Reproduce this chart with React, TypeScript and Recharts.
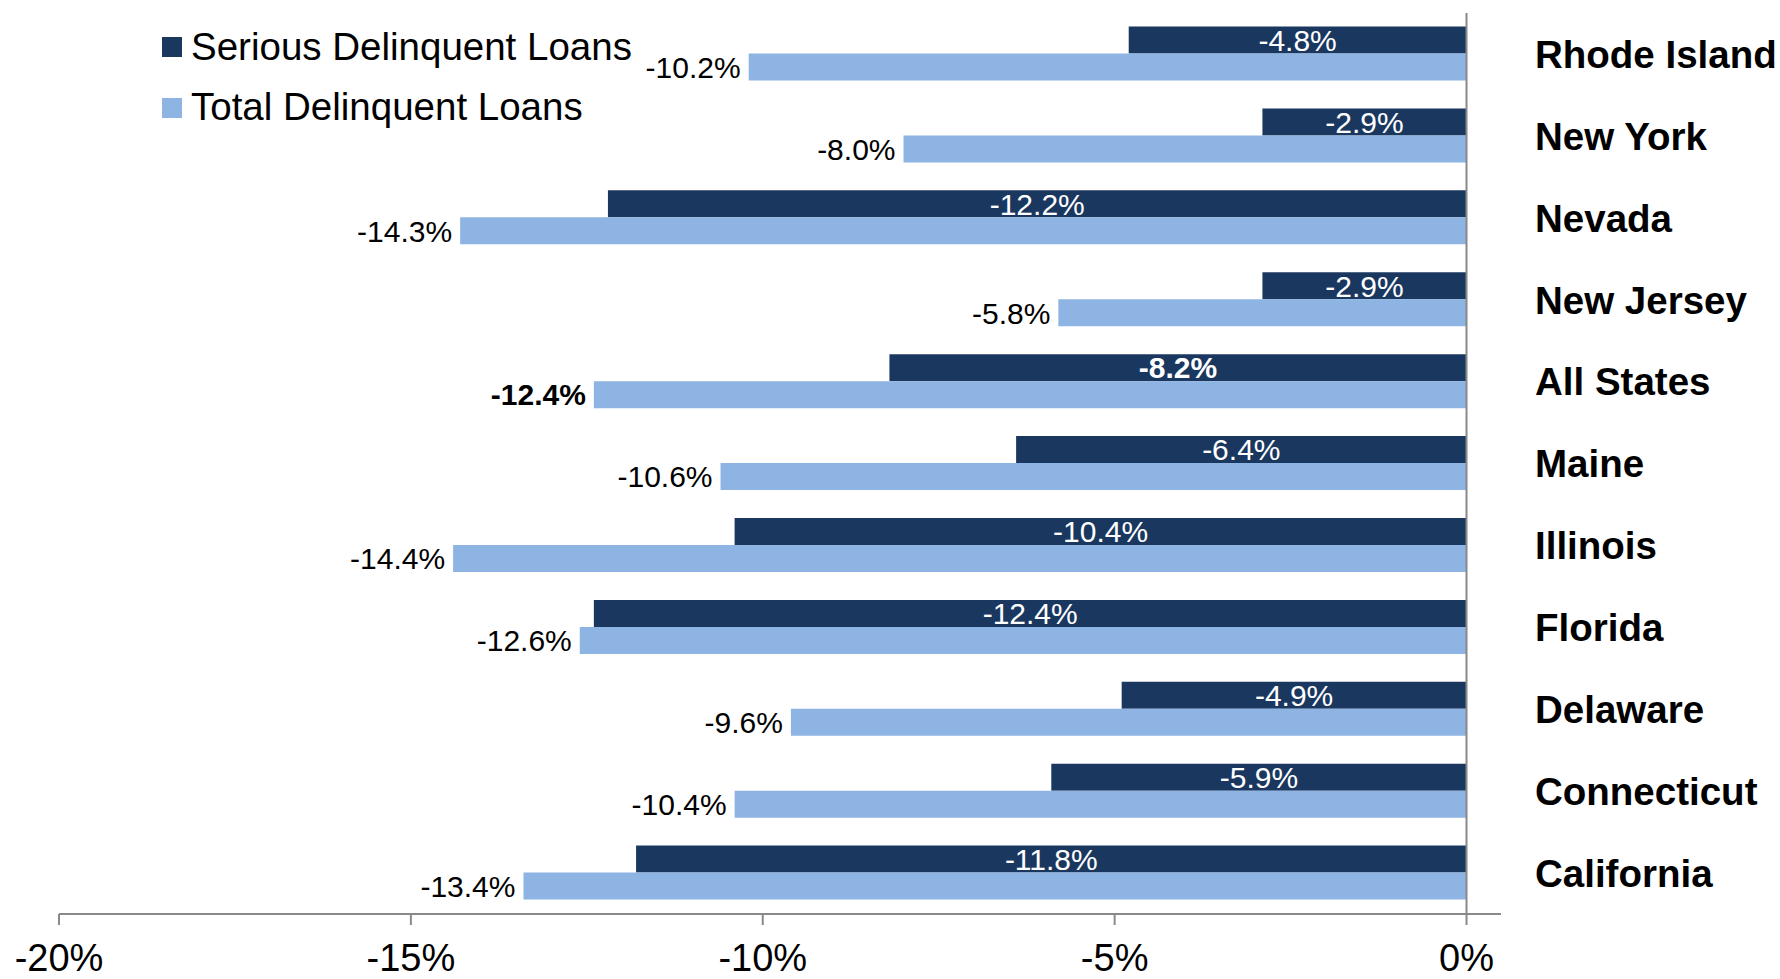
import React from "react";
import {
  BarChart,
  Bar,
  XAxis,
  YAxis,
  Legend,
  LabelList,
  ReferenceLine,
} from "recharts";

const states = [
  "Rhode Island",
  "New York",
  "Nevada",
  "New Jersey",
  "All States",
  "Maine",
  "Illinois",
  "Florida",
  "Delaware",
  "Connecticut",
  "California",
];
const serious = [-4.8, -2.9, -12.2, -2.9, -8.2, -6.4, -10.4, -12.4, -4.9, -5.9, -11.8];
const total = [-10.2, -8.0, -14.3, -5.8, -12.4, -10.6, -14.4, -12.6, -9.6, -10.4, -13.4];
const xTicks = [-20, -15, -10, -5, 0];

const DARK = "#1A375F";
const LIGHT = "#8EB4E3";
const GRID = "#898989";
const FONT = "'Liberation Sans', Arial, sans-serif";

const data = states.map((s, i) => ({ state: s, serious: serious[i], total: total[i] }));

const fmt = (v: number) => `${v.toFixed(1)}%`;

const SeriousLabel = (p: any) => {
  const left = Math.min(p.x, p.x + p.width);
  const right = Math.max(p.x, p.x + p.width);
  const bold = states[p.index] === "All States";
  return (
    <text
      x={(left + right) / 2}
      y={p.y + p.height / 2}
      dy="0.36em"
      textAnchor="middle"
      fill="#fff"
      fontSize={30}
      fontWeight={bold ? "bold" : "normal"}
      fontFamily={FONT}
    >
      {fmt(p.value)}
    </text>
  );
};

const TotalLabel = (p: any) => {
  const left = Math.min(p.x, p.x + p.width);
  const bold = states[p.index] === "All States";
  return (
    <text
      x={left - 8}
      y={p.y + p.height / 2}
      dy="0.36em"
      textAnchor="end"
      fill="#000"
      fontSize={30}
      fontWeight={bold ? "bold" : "normal"}
      fontFamily={FONT}
    >
      {fmt(p.value)}
    </text>
  );
};

const XTick = ({ x, y, payload }: any) => (
  <text x={x} y={y} dy="0.71em" textAnchor="middle" fontSize={38} fontFamily={FONT} fill="#000">
    {`${payload.value}%`}
  </text>
);

const YTick = ({ x, y, payload }: any) => (
  <text x={x} y={y} dy="0.36em" textAnchor="start" fontSize={38.5} fontWeight="bold" fontFamily={FONT} fill="#000">
    {payload.value}
  </text>
);

const legendItems = [
  { name: "Serious Delinquent Loans", color: DARK },
  { name: "Total Delinquent Loans", color: LIGHT },
];

const LegendBox = () => (
  <svg width={700} height={140}>
    {legendItems.map((it, i) => (
      <g key={it.name}>
        <rect x={162} y={37 + i * 61} width={20} height={20} fill={it.color} />
        <text x={191} y={60 + i * 60} fontSize={38.5} fontFamily={FONT} fill="#000">
          {it.name}
        </text>
      </g>
    ))}
  </svg>
);

export default function App() {
  return (
    <div style={{ position: "absolute", left: 0, top: 0, background: "#fff" }}>
      <BarChart
        width={1780}
        height={979}
        data={data}
        layout="vertical"
        margin={{ top: 13, right: 0, bottom: 0, left: 59 }}
        barCategoryGap="16.5%"
        barGap={0}
      >
        <XAxis
          type="number"
          domain={[-20, 0.49]}
          ticks={xTicks}
          allowDataOverflow
          height={65}
          tickSize={11}
          tickMargin={19}
          axisLine={{ stroke: GRID, strokeWidth: 2 }}
          tickLine={{ stroke: GRID, strokeWidth: 2 }}
          tick={<XTick />}
        />
        <YAxis
          type="category"
          dataKey="state"
          orientation="right"
          width={279}
          axisLine={false}
          tickLine={false}
          tickSize={0}
          tickMargin={34}
          tick={<YTick />}
          interval={0}
        />
        <ReferenceLine x={0} stroke={GRID} strokeWidth={2} />
        <Legend
          layout="vertical"
          align="center"
          verticalAlign="middle"
          wrapperStyle={{ top: 0, left: 0, width: 700, height: 140 }}
          content={<LegendBox />}
        />
        <Bar dataKey="serious" name="Serious Delinquent Loans" fill={DARK} isAnimationActive={false}>
          <LabelList dataKey="serious" content={<SeriousLabel />} />
        </Bar>
        <Bar dataKey="total" name="Total Delinquent Loans" fill={LIGHT} isAnimationActive={false}>
          <LabelList dataKey="total" content={<TotalLabel />} />
        </Bar>
      </BarChart>
    </div>
  );
}
